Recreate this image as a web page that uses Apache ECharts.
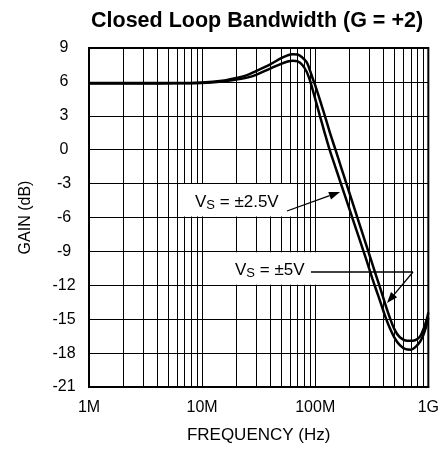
<!DOCTYPE html>
<html><head><meta charset="utf-8">
<script src="https://cdn.jsdelivr.net/npm/echarts@6/dist/echarts.min.js"></script>
<style>html,body{margin:0;padding:0;background:#fff}#c{width:442px;height:449px}</style>
</head><body><div id="c"></div>
<script>
// Frequencies in MHz, gain in dB
const freqVs5 = [1, 3, 6, 10, 15, 20, 25, 30, 40, 50, 57, 63, 70, 77, 84, 90, 95, 100, 110, 120, 134, 151, 170, 188, 205, 243, 280, 313, 350, 391, 447, 502, 560, 650, 730, 800, 860, 920, 970, 1000];
const gainVs5 = [5.9, 5.9, 5.9, 5.95, 6.1, 6.35, 6.6, 6.95, 7.55, 8.1, 8.35, 8.45, 8.42, 8.15, 7.75, 7.0, 6.3, 5.7, 4.4, 3.2, 1.6, 0.0, -1.6, -2.95, -4.12, -6.41, -8.31, -9.82, -11.32, -12.8, -14.6, -15.9, -16.6, -16.9, -16.9, -16.75, -16.4, -15.7, -15.0, -14.4];
const freqVs25 = [1, 3, 6, 10, 15, 20, 25, 30, 40, 50, 57, 63, 70, 77, 84, 90, 95, 100, 110, 120, 134, 150, 170, 190, 215, 250, 282, 320, 360, 400, 440, 500, 560, 630, 700, 780, 850, 900, 950, 1000];
const gainVs25 = [5.85, 5.85, 5.87, 5.9, 6.03, 6.2, 6.38, 6.62, 7.18, 7.6, 7.8, 7.88, 7.82, 7.5, 6.9, 6.1, 5.3, 4.5, 3.0, 1.65, 0.0, -1.47, -3.1, -4.55, -6.16, -8.12, -9.69, -11.4, -12.9, -14.25, -15.4, -16.6, -17.3, -17.65, -17.7, -17.4, -16.95, -16.45, -15.75, -14.9];
const xTickLabels = ['1M', '10M', '100M', '1G'];
const decades = [1, 10, 100];
const minorMultiples = [2, 3, 4, 5, 6, 7, 8, 9];
const yMin = -21, yMax = 9, yStep = 3;

const FONT = 'Liberation Sans, Arial, Helvetica, sans-serif';
const zip = (f, g) => f.map((v, i) => [v, g[i]]);
const minorLines = [];
decades.forEach(d => minorMultiples.forEach(m => minorLines.push({ xAxis: d * m })));

const chart = echarts.init(document.getElementById('c'), null, { renderer: 'canvas' });

function arrow(x1, y1, x2, y2) {
  const dx = x2 - x1, dy = y2 - y1, L = Math.hypot(dx, dy);
  const ux = dx / L, uy = dy / L, len = 11, hw = 4;
  const bx = x2 - ux * len, by = y2 - uy * len;
  return [
    { type: 'line', z: 60, shape: { x1, y1, x2: bx, y2: by }, style: { stroke: '#000', lineWidth: 1.3 } },
    { type: 'polygon', z: 60, shape: { points: [[x2, y2], [bx - uy * hw, by + ux * hw], [bx + uy * hw, by - ux * hw]] }, style: { fill: '#000' } }
  ];
}
function label(x, y, rest) {
  return {
    type: 'text', z: 60, x, y,
    style: {
      text: '{v|V}{s|S}{v|' + rest + '}', align: 'left', verticalAlign: 'middle',
      rich: {
        v: { fontSize: 17, fontFamily: FONT, fill: '#000', lineHeight: 20 },
        s: { fontSize: 13, fontFamily: FONT, fill: '#000', lineHeight: 12, verticalAlign: 'bottom' }
      }
    }
  };
}

chart.setOption({
  animation: false,
  backgroundColor: '#fff',
  title: {
    text: 'Closed Loop Bandwidth (G = +2)', left: 91, top: 10, padding: 0,
    textStyle: { fontSize: 21.5, fontWeight: 'bold', color: '#000', fontFamily: FONT }
  },
  grid: { left: 89, right: 13, top: 48, bottom: 62, show: true, borderColor: '#000', borderWidth: 2, backgroundColor: 'transparent' },
  xAxis: {
    type: 'log', logBase: 10, min: 1, max: 1000,
    name: 'FREQUENCY (Hz)', nameLocation: 'middle', nameGap: 40,
    nameTextStyle: { fontSize: 17, color: '#000', fontFamily: FONT },
    axisLine: { show: true, onZero: false, lineStyle: { color: '#000', width: 2 } },
    axisTick: { show: false },
    axisLabel: { fontSize: 16, color: '#000', fontFamily: FONT, margin: 13,
      formatter: v => xTickLabels[Math.round(Math.log10(v))] },
    splitLine: { show: true, lineStyle: { color: '#000', width: 1 } }
  },
  yAxis: {
    type: 'value', min: yMin, max: yMax, interval: yStep,
    name: 'GAIN (dB)', nameLocation: 'middle', nameGap: 55,
    nameTextStyle: { fontSize: 16, color: '#000', fontFamily: FONT },
    axisLine: { show: true, onZero: false, lineStyle: { color: '#000', width: 2 } },
    axisTick: { show: false },
    axisLabel: { fontSize: 16, color: '#000', fontFamily: FONT, margin: 25, align: 'center' },
    splitLine: { show: true, lineStyle: { color: '#000', width: 1 } }
  },
  series: [
    {
      name: 'VS = ±5V', type: 'line', data: zip(freqVs5, gainVs5), showSymbol: false, smooth: 0.35,
      lineStyle: { color: '#000', width: 2.5 }, z: 5,
      markLine: { silent: true, symbol: ['none', 'none'], label: { show: false }, animation: false,
        lineStyle: { color: '#000', width: 1, type: 'solid' }, data: minorLines }
    },
    {
      name: 'VS = ±2.5V', type: 'line', data: zip(freqVs25, gainVs25), showSymbol: false, smooth: 0.35,
      lineStyle: { color: '#000', width: 2.5 }, z: 5
    }
  ],
  graphic: [
    { type: 'rect', z: 50, shape: { x: 183, y: 184, width: 111, height: 32.5 }, style: { fill: '#fff' } },
    { type: 'rect', z: 50, shape: { x: 213, y: 252.3, width: 107, height: 32.4 }, style: { fill: '#fff' } },
    label(195, 202, ' = ±2.5V'),
    label(235, 270, ' = ±5V'),
    ...arrow(287, 211, 340, 192),
    { type: 'line', z: 60, shape: { x1: 311, y1: 272, x2: 413, y2: 272 }, style: { stroke: '#000', lineWidth: 1.3 } },
    ...arrow(413, 272, 387, 303)
  ]
});
</script>
</body></html>
